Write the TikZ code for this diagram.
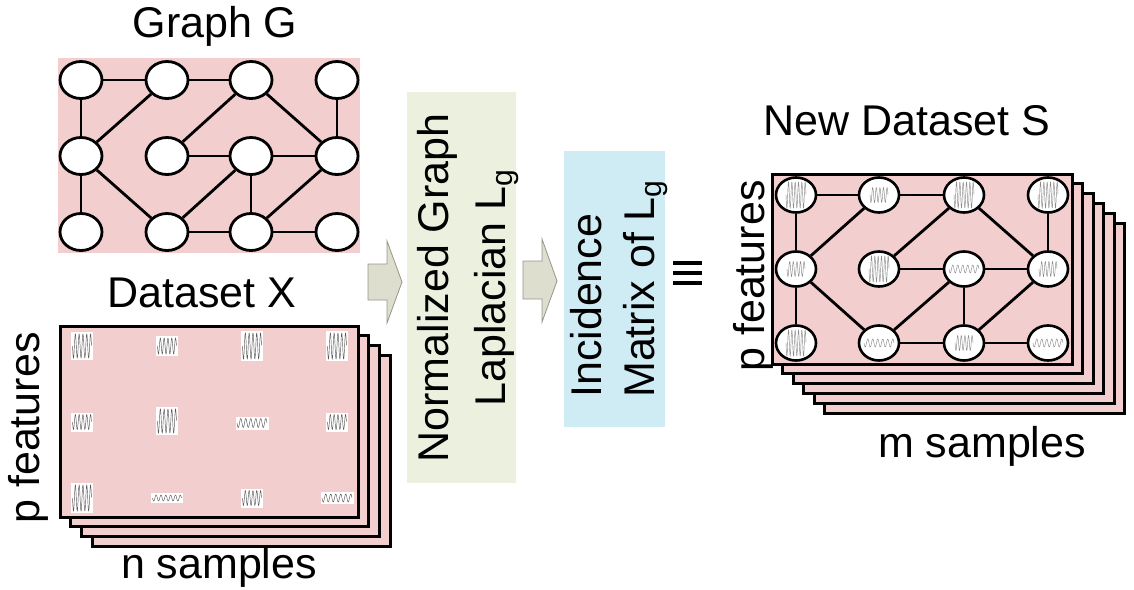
\documentclass[tikz,border=0pt]{standalone}
\usepackage{fontspec}
\setmainfont{Liberation Sans}
\usetikzlibrary{shapes.geometric}
\definecolor{pinkfill}{RGB}{242,206,206}
\definecolor{greenbox}{RGB}{235,241,222}
\definecolor{bluebox}{RGB}{207,235,244}
\definecolor{arrowfill}{RGB}{221,222,206}
\definecolor{arrowdraw}{RGB}{150,150,138}
\newcommand{\mywave}[4]{\draw[#4, line width=0.45pt] plot[domain=0:1, samples=120] ({-0.5*(#1)+(#1)*\x},{0.5*(#2)*sin(360*(#3)*\x)});}
\newcommand{\xcell}[6]{\node[xbox, minimum width=#4pt, minimum height=#5pt] (#1) at (#2,#3) {};
  \begin{scope}[shift={(#1.center)}]\mywave{#4-3}{#5-4}{#6}{black!65}\end{scope}}
\newcommand{\waveT}{\mywave{20}{26}{6}{black!45}}
\newcommand{\waveM}{\mywave{18}{15}{5}{black!45}}
\newcommand{\waveW}{\mywave{30}{8}{6}{black!45}}
\begin{document}
\begin{tikzpicture}[x=1pt,y=-1pt,
  txt/.style={inner sep=0, font=\fontsize{43}{51}\selectfont},
  gnode/.style={ellipse, draw, fill=white, line width=2.8pt, minimum width=42pt, minimum height=37pt, inner sep=0},
  snode/.style={ellipse, draw, fill=white, line width=2.6pt, minimum width=40pt, minimum height=35pt, inner sep=0},
  gedge/.style={line width=2.8pt},
  layer/.style={fill=pinkfill, draw=black, line width=3pt},
  xbox/.style={fill=white, draw=none, inner sep=0},
  eqbar/.style={fill=black, draw=none, inner sep=0, minimum width=29pt, minimum height=4.5pt},
  blockarrow/.style={fill=arrowfill, draw=arrowdraw, line width=0.8pt, line join=miter}]
\useasboundingbox (0,0) rectangle (1134,589);
% ---------- Graph G ----------
\fill[pinkfill] (58,58) rectangle (360,253);
\foreach \c/\xx in {1/81,2/167,3/251,4/337}
  \foreach \r/\yy in {1/80,2/156,3/232}
    \node[gnode] (g\r\c) at (\xx,\yy) {};
\foreach \a/\b in {11/12,12/13,11/21,21/12,13/22,13/24,14/24,22/23,23/24,21/31,21/32,23/32,23/33,24/33,32/33,33/34}
  \draw[gedge] (g\a) -- (g\b);
\node[txt, anchor=base] (tG) at (215,37) {Graph G};
% ---------- Dataset X ----------
\foreach \k in {3,2,1,0}
  \filldraw[layer] ({60+10.7*\k},{326+9.7*\k}) rectangle ++(298,191);
\xcell{x11}{82}{346}{22}{28}{5}
\xcell{x12}{167}{346}{22}{20}{5}
\xcell{x13}{252}{346}{22}{30}{5}
\xcell{x14}{337}{346}{22}{30}{5}
\xcell{x21}{82}{422}{22}{19}{5}
\xcell{x22}{167}{421}{22}{28}{5}
\xcell{x23}{252}{423}{33}{13}{6}
\xcell{x24}{337}{422}{22}{19}{5}
\xcell{x31}{82}{498}{22}{30}{5}
\xcell{x32}{167}{498}{32}{10}{6}
\xcell{x33}{252}{498}{22}{19}{5}
\xcell{x34}{337}{498}{33}{12}{6}
\node[txt, anchor=base] (tX) at (202,307) {Dataset X};
\node[txt, anchor=base] (tn) at (219,578) {n samples};
\node[txt, anchor=base, rotate=90] (pX) at (39,428) {p features};
% ---------- arrows and boxes ----------
\filldraw[blockarrow] (368,264) -- (387,264) -- (387,241) -- (402,282) -- (387,323) -- (387,300) -- (368,300) -- cycle;
\node[fill=greenbox, inner sep=0, minimum width=109pt, minimum height=391pt] (Lbox) at (461.5,287.5) {};
\node[txt, anchor=base, rotate=90] (L1) at (448,288) {Normalized Graph};
\node[txt, anchor=base, rotate=90] (L2) at (505,288) {Laplacian L\textsubscript{g}};
\filldraw[blockarrow] (523,261) -- (542,261) -- (542,239) -- (557,281) -- (542,322) -- (542,299) -- (523,299) -- cycle;
\node[fill=bluebox, inner sep=0, minimum width=101pt, minimum height=276pt] (Ibox) at (614.5,289) {};
\node[txt, anchor=base west, rotate=90] (I1) at (601,398) {Incidence};
\node[txt, anchor=base west, rotate=90] (I2) at (654,398) {Matrix of L\textsubscript{g}};
\node[eqbar] (eq1) at (687,263) {};
\node[eqbar] (eq2) at (687,273) {};
\node[eqbar] (eq3) at (687,283) {};
% ---------- New Dataset S ----------
\foreach \k in {5,4,3,2,1,0}
  \filldraw[layer] ({772+10.5*\k},{174+9.8*\k}) rectangle ++(300,190);
\foreach \c/\xx in {1/796,2/879,3/964,4/1048}
  \foreach \r/\yy in {1/195,2/269,3/343}
    \node[snode] (s\r\c) at (\xx,\yy) {};
\foreach \a/\b in {11/12,12/13,11/21,21/12,13/22,13/24,14/24,22/23,23/24,21/31,21/32,23/32,23/33,24/33,32/33,33/34}
  \draw[gedge] (s\a) -- (s\b);
\foreach \n/\t in {11/T,12/M,13/T,14/T,21/M,22/T,23/W,24/M,31/T,32/W,33/M,34/W}
  {\begin{scope}[shift={(s\n.center)}]\csname wave\t\endcsname\end{scope}}
\node[txt, anchor=base] (tS) at (907,135) {New Dataset S};
\node[txt, anchor=base] (tm) at (982,457) {m samples};
\node[txt, anchor=base, rotate=90] (pS) at (764,276) {p features};
\end{tikzpicture}
\end{document}
